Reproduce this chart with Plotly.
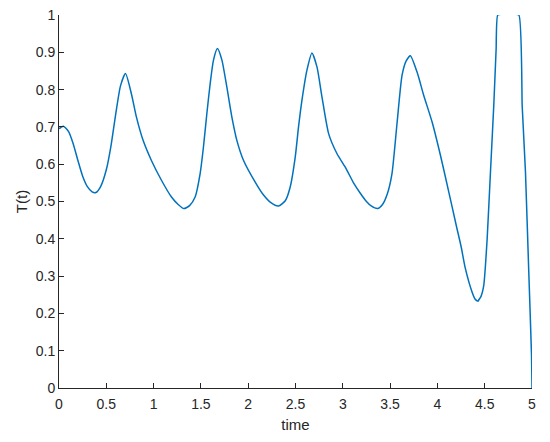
import plotly.graph_objects as go

time = [0.00, 0.046, 0.10, 0.15, 0.20, 0.25, 0.30, 0.35, 0.39, 0.44, 0.50, 0.55, 0.60, 0.65, 0.703,
        0.765, 0.818, 0.889, 0.977, 1.083, 1.189, 1.26, 1.32, 1.38, 1.439, 1.492, 1.527,
        1.563, 1.598, 1.633, 1.675, 1.722, 1.774, 1.827, 1.880, 1.951, 2.074, 2.160, 2.24,
        2.320, 2.392, 2.444, 2.497, 2.532, 2.568, 2.621, 2.674, 2.727, 2.780, 2.850, 2.939, 3.026,
        3.12, 3.185, 3.25, 3.30, 3.368, 3.42, 3.47, 3.52, 3.573, 3.626, 3.67, 3.714, 3.785,
        3.855, 3.944, 4.032, 4.12, 4.20, 4.25, 4.296, 4.367, 4.40, 4.427, 4.46, 4.49,
        4.526, 4.561, 4.596, 4.621, 4.638, 4.861, 4.896, 4.931, 4.966, 4.995, 5.0]
T = [0.695, 0.702, 0.688, 0.655, 0.610, 0.568, 0.540, 0.526, 0.524, 0.540, 0.585, 0.650, 0.735, 0.810, 0.843,
     0.789, 0.727, 0.664, 0.610, 0.557, 0.512, 0.492, 0.481, 0.489, 0.512, 0.575, 0.646,
     0.736, 0.816, 0.879, 0.910, 0.879, 0.807, 0.727, 0.664, 0.610, 0.552, 0.518, 0.497,
     0.488, 0.502, 0.539, 0.619, 0.700, 0.771, 0.852, 0.898, 0.861, 0.780, 0.682, 0.628, 0.592,
     0.547, 0.522, 0.500, 0.488, 0.481, 0.492, 0.520, 0.575, 0.709, 0.838, 0.877, 0.891, 0.847,
     0.785, 0.713, 0.624, 0.526, 0.435, 0.380, 0.320, 0.257, 0.238, 0.232, 0.245, 0.275,
     0.400, 0.579, 0.758, 0.910, 1.0, 1.0, 0.758, 0.579, 0.311, 0.088, 0.0]

x_ticks = [0, 0.5, 1, 1.5, 2, 2.5, 3, 3.5, 4, 4.5, 5]
x_labels = ["0", "0.5", "1", "1.5", "2", "2.5", "3", "3.5", "4", "4.5", "5"]
y_ticks = [0, 0.1, 0.2, 0.3, 0.4, 0.5, 0.6, 0.7, 0.8, 0.9, 1]
y_labels = ["0", "0.1", "0.2", "0.3", "0.4", "0.5", "0.6", "0.7", "0.8", "0.9", "1"]

# smooth part rendered as spline, the saturated tail (after the last minimum) almost straight
split = time.index(4.427)

fig = go.Figure()
fig.add_trace(go.Scatter(x=time[:split + 1], y=T[:split + 1], mode="lines",
                         line=dict(color="#0072BD", width=1.5, shape="spline", smoothing=0.6),
                         showlegend=False))
fig.add_trace(go.Scatter(x=time[split:], y=T[split:], mode="lines",
                         line=dict(color="#0072BD", width=1.5, shape="spline", smoothing=0.3),
                         showlegend=False))

axis_common = dict(showgrid=False, zeroline=False, showline=True, linecolor="#262626", linewidth=1,
                   ticks="inside", ticklen=5, tickwidth=1, tickcolor="#262626", automargin=False,
                   ticklabeloverflow="allow",
                   tickfont=dict(family="Liberation Sans, Arial, sans-serif", size=14, color="#262626"))

# page body has an 8px margin: figure is 542x434 so it fills the 550x442 window
fig.update_layout(
    width=542, height=434,
    margin=dict(l=51, r=18, t=7, b=54),
    paper_bgcolor="white", plot_bgcolor="white",
    font=dict(family="Liberation Sans, Arial, sans-serif", size=14, color="#262626"),
    xaxis=dict(range=[0, 5], tickvals=x_ticks, ticktext=x_labels, ticklabelstandoff=3,
               title=dict(text="time", font=dict(size=15), standoff=8), **axis_common),
    yaxis=dict(range=[0, 1], tickvals=y_ticks, ticktext=y_labels,
               title=dict(text="T(t)", font=dict(size=15), standoff=4), **axis_common),
)

fig.write_html("out.html")
